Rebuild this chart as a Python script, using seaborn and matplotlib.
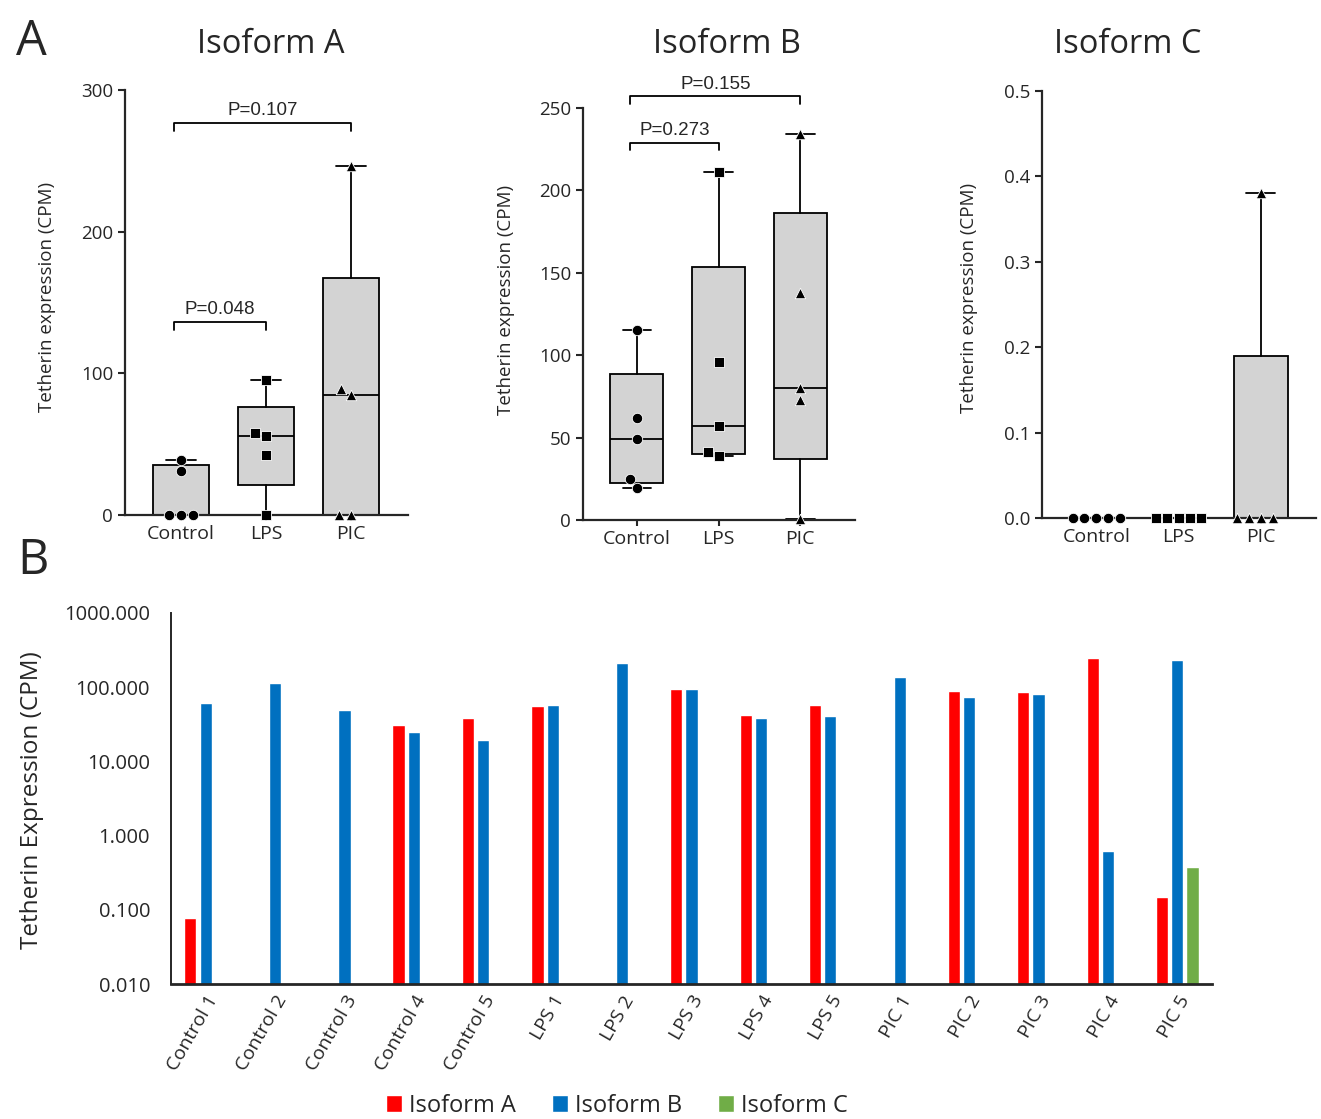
import numpy as np
import pandas as pd
import matplotlib
matplotlib.use("Agg")
import matplotlib.pyplot as plt
import matplotlib.ticker as mticker
import seaborn as sns

# per-sample tetherin expression (CPM)
samples = ['Control 1', 'Control 2', 'Control 3', 'Control 4', 'Control 5',
           'LPS 1', 'LPS 2', 'LPS 3', 'LPS 4', 'LPS 5',
           'PIC 1', 'PIC 2', 'PIC 3', 'PIC 4', 'PIC 5']
sample_group = ['Control'] * 5 + ['LPS'] * 5 + ['PIC'] * 5
iso_a = [0.078, 0, 0, 31, 39, 56, 0, 95, 42, 58, 0, 89, 85, 246, 0.148]
iso_b = [62, 115, 49, 25, 19.5, 57, 211, 96, 39, 41, 138, 73, 80, 0.63, 234]
iso_c = [0, 0, 0, 0, 0, 0, 0, 0, 0, 0, 0, 0, 0, 0, 0.38]

groups = ['Control', 'LPS', 'PIC']
isoforms = ['Isoform A', 'Isoform B', 'Isoform C']
iso_colors = ['#FF0000', '#0070C0', '#70AD47']
group_markers = ['o', 's', '^']

# p-value brackets: (start group, end group, bracket y, label)
pvals_a = [(0, 1, 136, 'P=0.048'), (0, 2, 277, 'P=0.107')]
pvals_b = [(0, 1, 229, 'P=0.273'), (0, 2, 257, 'P=0.155')]

df = pd.DataFrame({'sample': samples, 'group': sample_group,
                   'Isoform A': iso_a, 'Isoform B': iso_b, 'Isoform C': iso_c})
long_df = df.melt(id_vars=['sample', 'group'], value_vars=isoforms,
                  var_name='isoform', value_name='cpm')

sns.set_style('ticks')
plt.rcParams['font.family'] = ['Open Sans', 'DejaVu Sans']

fig = plt.figure(figsize=(13.21, 11.19), dpi=100)

ax_a = fig.add_axes([0.0946, 0.5398, 0.2143, 0.3798])
ax_b = fig.add_axes([0.4413, 0.5353, 0.2059, 0.3682])
ax_c = fig.add_axes([0.7888, 0.5371, 0.2074, 0.3816])
ax_bar = fig.add_axes([0.1294, 0.1206, 0.7881, 0.3316])


def box_stats(vals):
    q1, med, q3 = np.percentile(vals, [25, 50, 75], method='weibull')
    return {'med': med, 'q1': q1, 'q3': q3,
            'whislo': np.min(vals), 'whishi': np.max(vals), 'fliers': []}


def draw_panel(ax, iso, ylim, yticks, ylabel_x, ylabel_y, fmt=None, brackets=()):
    stats = [box_stats(df.loc[df['group'] == g, iso].values) for g in groups]
    ax.bxp(stats, positions=[0, 1, 2], widths=0.65, capwidths=0.35,
           patch_artist=True, showfliers=False, manage_ticks=False,
           boxprops=dict(facecolor='#d3d3d3', edgecolor='black', linewidth=1.3),
           medianprops=dict(color='black', linewidth=1.3),
           whiskerprops=dict(color='black', linewidth=1.3),
           capprops=dict(color='black', linewidth=1.3))
    for g, m in zip(groups, group_markers):
        vals = df.loc[df['group'] == g, iso].values
        sns.swarmplot(x=[g] * len(vals), y=vals, order=groups, marker=m,
                      color='black', size=7.5 if m != 's' else 7, ax=ax, zorder=4,
                      clip_on=False, edgecolor='white', linewidth=0.6)
    ax.set_xlim(-0.66, 2.67)
    ax.set_ylim(*ylim)
    ax.set_yticks(yticks)
    if fmt:
        ax.yaxis.set_major_formatter(mticker.FormatStrFormatter(fmt))
    ax.set_xticks([0, 1, 2])
    ax.set_xticklabels(groups)
    ax.set_xlabel('')
    ax.set_ylabel('Tetherin expression (CPM)', fontsize=13.5)
    ax.yaxis.set_label_coords(ylabel_x, ylabel_y)
    sns.despine(ax=ax)
    for s in ['left', 'bottom']:
        ax.spines[s].set_linewidth(1.6)
    ax.tick_params(axis='y', length=5, width=1.5, labelsize=13.5)
    ax.tick_params(axis='x', length=4, width=1.5, labelsize=14)
    tick_h = (ylim[1] - ylim[0]) * 0.019
    for i, j, y, lab in brackets:
        x0, x1 = i - 0.08, j
        ax.plot([x0, x0, x1, x1], [y - tick_h, y, y, y - tick_h], color='black',
                lw=1.3, clip_on=False)
        ax.text((x0 + x1) / 2, y + tick_h * 0.5, lab, ha='center', va='bottom',
                fontsize=13.5, family='Liberation Sans')


draw_panel(ax_a, 'Isoform A', (0, 300), [0, 100, 200, 300], -0.245, 0.513,
           brackets=pvals_a)
draw_panel(ax_b, 'Isoform B', (0, 250), [0, 50, 100, 150, 200, 250], -0.25, 0.534,
           brackets=pvals_b)
draw_panel(ax_c, 'Isoform C', (0, 0.5), [0, 0.1, 0.2, 0.3, 0.4, 0.5], -0.235, 0.515,
           fmt='%.1f')

fig.text(0.2051, 0.9598, 'Isoform A', ha='center', va='center', fontsize=23.5)
fig.text(0.5503, 0.9598, 'Isoform B', ha='center', va='center', fontsize=23.5)
fig.text(0.8539, 0.9598, 'Isoform C', ha='center', va='center', fontsize=23.5)
fig.text(0.024, 0.962, 'A', ha='center', va='center', fontsize=35)
fig.text(0.025, 0.498, 'B', ha='center', va='center', fontsize=35)

# panel B: grouped bars per sample on a log axis
sns.barplot(data=long_df, x='sample', y='cpm', hue='isoform', order=samples,
            hue_order=isoforms, palette=iso_colors, width=0.66, gap=0.2,
            errorbar=None, saturation=1, ax=ax_bar)
ax_bar.set_yscale('log')
ax_bar.set_ylim(0.01, 1000)
ax_bar.set_xlim(-0.5, len(samples) - 0.5)
ax_bar.set_yticks([0.01, 0.1, 1, 10, 100, 1000])
ax_bar.yaxis.set_major_formatter(mticker.FuncFormatter(lambda v, p: f'{v:.3f}'))
ax_bar.yaxis.set_minor_locator(mticker.NullLocator())
ax_bar.tick_params(axis='y', length=0, labelsize=14.5, pad=15)
ax_bar.tick_params(axis='x', length=0, labelsize=14, pad=6)
plt.setp(ax_bar.get_xticklabels(), rotation=60, ha='right', rotation_mode='anchor')
ax_bar.set_xlabel('')
ax_bar.set_ylabel('Tetherin Expression (CPM)', fontsize=17.5)
ax_bar.yaxis.set_label_coords(-0.122, 0.496)
sns.despine(ax=ax_bar)
ax_bar.spines['left'].set_linewidth(1.4)
ax_bar.spines['bottom'].set_linewidth(2)

handles, labels = ax_bar.get_legend_handles_labels()
ax_bar.legend_.remove()
fig.legend(handles, labels, loc='center', bbox_to_anchor=(0.467, 0.0116), ncol=3,
           frameon=False, fontsize=17, handlelength=0.7, handleheight=0.7,
           handletextpad=0.3, columnspacing=1.5)

fig.savefig('out.png', dpi=100)
